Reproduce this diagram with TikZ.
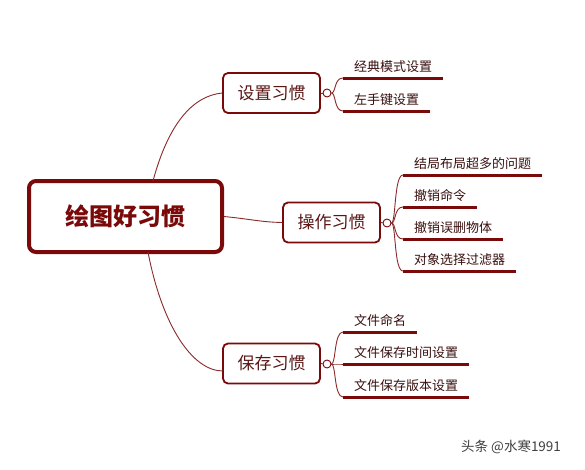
\documentclass[tikz,border=0pt]{standalone}
\usepackage{fontspec}
\setmainfont{Noto Sans CJK SC}
\definecolor{mred}{HTML}{7A0A0A}
\definecolor{lred}{HTML}{8A2A2A}
\definecolor{btxt}{HTML}{5A1515}
\definecolor{ltxt}{HTML}{3A1010}
\begin{document}
\begin{tikzpicture}[x=1pt,y=-1pt,
  mainbox/.style={draw=mred,line width=4pt,rounded corners=7pt,fill=white,minimum width=193pt,minimum height=71pt,inner sep=0pt,font=\fontsize{24}{24}\selectfont\bfseries,text=mred},
  branchbox/.style={draw=mred,line width=1.8pt,rounded corners=5pt,fill=white,minimum width=97pt,minimum height=40pt,inner sep=0pt,font=\fontsize{17}{17}\selectfont,text=btxt},
  leaf/.style={anchor=south west,inner xsep=11pt,inner ysep=5pt,font=\fontsize{13}{13}\selectfont,text=ltxt},
  uline/.style={draw=mred,line width=3pt},
  conn/.style={draw=lred,line width=0.9pt},
  knob/.style={circle,draw=mred,fill=white,line width=0.9pt,minimum size=8pt,inner sep=0pt}]
\useasboundingbox (0,0) rectangle (585,469);
\fill[white] (0,0) rectangle (585,469);

% main
\node[mainbox] (main) at (125.5,216.5) {绘图好习惯};

% branches
\node[branchbox] (b1) at (271.5,93) {设置习惯};
\node[branchbox] (b2) at (331.5,222.5) {操作习惯};
\node[branchbox] (b3) at (271.5,363.5) {保存习惯};

% main connectors
\coordinate (m1) at (153,181);
\coordinate (m3) at (148,252);
\coordinate (e3) at (223,371);
\draw[conn] (m1) .. controls (168,125) and (192,96) .. (b1.west);
\draw[conn] (main.east) .. controls (250,219) and (260,222) .. (b2.west);
\draw[conn] (m3) .. controls (162,325) and (192,371) .. (e3);

% knobs
\node[knob] (k1) at (327,93) {};
\node[knob] (k2) at (387,223) {};
\node[knob] (k3) at (327,364) {};
\draw[conn] (b1.east) -- (k1);
\draw[conn] (b2.east) -- (k2);
\draw[conn] (b3.east) -- (k3);

% leaves branch 1
\node[leaf] (l11) at (343,78) {经典模式设置};
\node[leaf] (l12) at (343,111) {左手键设置};
% leaves branch 2
\node[leaf] (l21) at (403,175) {结局布局超多的问题};
\node[leaf] (l22) at (403,207) {撤销命令};
\node[leaf] (l23) at (403,239) {撤销误删物体};
\node[leaf] (l24) at (403,271) {对象选择过滤器};
% leaves branch 3
\node[leaf] (l31) at (343,332) {文件命名};
\node[leaf] (l32) at (343,364) {文件保存时间设置};
\node[leaf] (l33) at (343,397) {文件保存版本设置};

\foreach \l in {l11,l12,l21,l22,l23,l24,l31,l32,l33}
  \draw[uline] (\l.south west) -- (\l.south east);

% brackets
\foreach \l in {l11,l12}
  \draw[conn] (k1.east) .. controls (336,93) and (334,0|-\l.south west) .. (\l.south west);
\foreach \l in {l21,l22,l23,l24}
  \draw[conn] (k2.east) .. controls (396,223) and (394,0|-\l.south west) .. (\l.south west);
\foreach \l in {l31,l32,l33}
  \draw[conn] (k3.east) .. controls (336,364) and (334,0|-\l.south west) .. (\l.south west);

% watermark
\node[anchor=west,inner sep=0pt,font=\fontsize{13.5}{13.5}\selectfont,text=black!75] (wm) at (461,447) {头条 @水寒1991};
\end{tikzpicture}
\end{document}
